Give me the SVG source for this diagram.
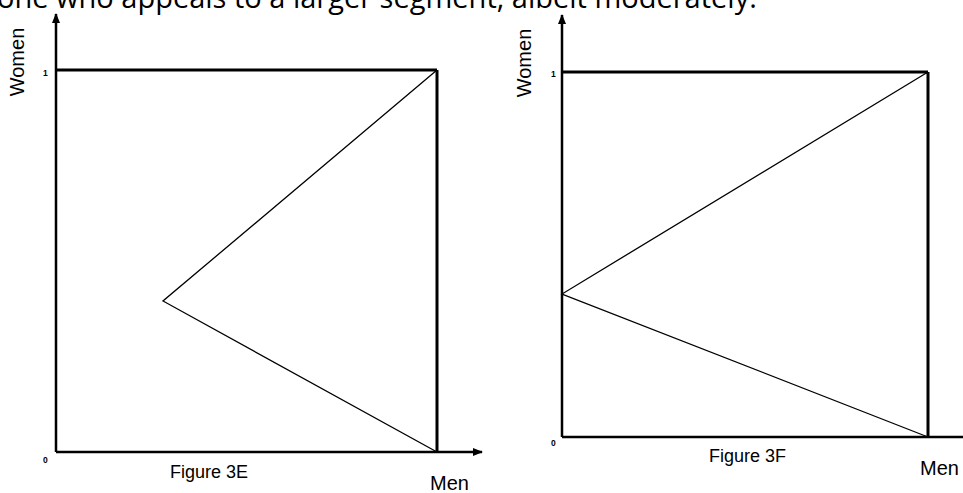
<svg xmlns="http://www.w3.org/2000/svg" width="963" height="493" viewBox="0 0 963 493">
<style>
.box{stroke:#000;stroke-width:3;fill:none}
.axis{stroke:#000;stroke-width:2.5;fill:none}
.thin{stroke:#000;stroke-width:1.3;fill:none}
.lbl{font-family:"Liberation Sans",Arial,sans-serif;fill:#000}
.tick{font-family:"Liberation Sans",Arial,sans-serif;font-size:8.5px;font-weight:bold;fill:#000}
.head{font-family:"Open Sans","Noto Sans",sans-serif;font-size:29px;fill:#000}
</style>
<defs>
<marker id="arr" viewBox="0 0 10 10" refX="9" refY="5" markerWidth="4" markerHeight="4" orient="auto" markerUnits="strokeWidth">
<path d="M0,1 L10,5 L0,9 z" fill="#000"/>
</marker>
</defs>
<rect width="963" height="493" fill="#fff"/>
<text class="head" x="-3" y="8">one who appeals to a larger segment, albeit moderately.</text>
<g id="figure-3e">
<g id="axes-3e">
<line class="axis" x1="56" y1="452" x2="56" y2="14" marker-end="url(#arr)"/>
<line class="axis" x1="56" y1="452" x2="482" y2="452" marker-end="url(#arr)"/>
</g>
<g id="box-3e">
<line class="box" x1="56" y1="70" x2="437" y2="70"/>
<line class="box" x1="437" y1="70" x2="437" y2="452"/>
</g>
<g id="curve-3e">
<polyline class="thin" points="437,70 163,301 437,452"/>
</g>
<text class="lbl" font-size="20" transform="translate(24,62) rotate(-90)" text-anchor="middle">Women</text>
<text class="tick" x="43" y="76">1</text>
<text class="tick" x="43" y="463">0</text>
<text class="lbl" font-size="18" x="170" y="478">Figure 3E</text>
<text class="lbl" font-size="20" x="430" y="490">Men</text>
</g>
<g id="figure-3f">
<g id="axes-3f">
<line class="axis" x1="562" y1="437" x2="562" y2="15" marker-end="url(#arr)"/>
<line class="axis" x1="562" y1="437" x2="963" y2="437"/>
</g>
<g id="box-3f">
<line class="box" x1="562" y1="72" x2="928" y2="72"/>
<line class="box" x1="928" y1="72" x2="928" y2="437"/>
</g>
<g id="curve-3f">
<polyline class="thin" points="928,72 562,294 928,437"/>
</g>
<text class="lbl" font-size="20" transform="translate(531,63) rotate(-90)" text-anchor="middle">Women</text>
<text class="tick" x="551" y="77">1</text>
<text class="tick" x="551" y="446">0</text>
<text class="lbl" font-size="18" x="709" y="462">Figure 3F</text>
<text class="lbl" font-size="20" x="920" y="475">Men</text>
</g>
</svg>
